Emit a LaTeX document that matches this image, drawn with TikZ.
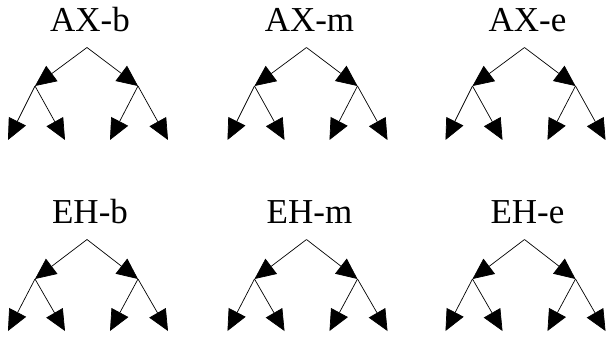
\documentclass[tikz,border=0pt]{standalone}
\usepackage{fontspec}
\setmainfont{Liberation Serif}
\usepackage{tikz}
\usetikzlibrary{positioning,arrows.meta}

\begin{document}
\begin{tikzpicture}[x=1pt,y=-1pt,
  edge/.style={line width=0.7pt,-{Triangle[length=21pt,width=19pt]}},
  lbl/.style={anchor=base,inner sep=0pt,font=\fontsize{35}{38}\selectfont}]
\useasboundingbox (0,0) rectangle (607,338);
% two rows of trees, three per row
\foreach \rw/\yy/\dya/\dyb in {AX/47.5/38.5/54,EH/239.5/39.5/52} {
  \foreach \cl/\xx in {b/87,m/306.5,e/524.5} {
    \node[lbl] (lab-\rw-\cl) at (\xx+3,\yy-16) {\rw-\cl};
    \coordinate (r-\rw-\cl) at (\xx,\yy);
    \coordinate (c1-\rw-\cl) at (\xx-52,\yy+\dya);
    \coordinate (c2-\rw-\cl) at (\xx+51,\yy+\dya);
    \coordinate (l1-\rw-\cl) at (\xx-52-27,\yy+\dya+\dyb);
    \coordinate (l2-\rw-\cl) at (\xx-52+30,\yy+\dya+\dyb);
    \coordinate (l3-\rw-\cl) at (\xx+51-28,\yy+\dya+\dyb);
    \coordinate (l4-\rw-\cl) at (\xx+51+30,\yy+\dya+\dyb);
    \draw[edge] (r-\rw-\cl) -- (c1-\rw-\cl);
    \draw[edge] (r-\rw-\cl) -- (c2-\rw-\cl);
    \draw[edge] (c1-\rw-\cl) -- (l1-\rw-\cl);
    \draw[edge] (c1-\rw-\cl) -- (l2-\rw-\cl);
    \draw[edge] (c2-\rw-\cl) -- (l3-\rw-\cl);
    \draw[edge] (c2-\rw-\cl) -- (l4-\rw-\cl);
  }
}
\end{tikzpicture}
\end{document}
